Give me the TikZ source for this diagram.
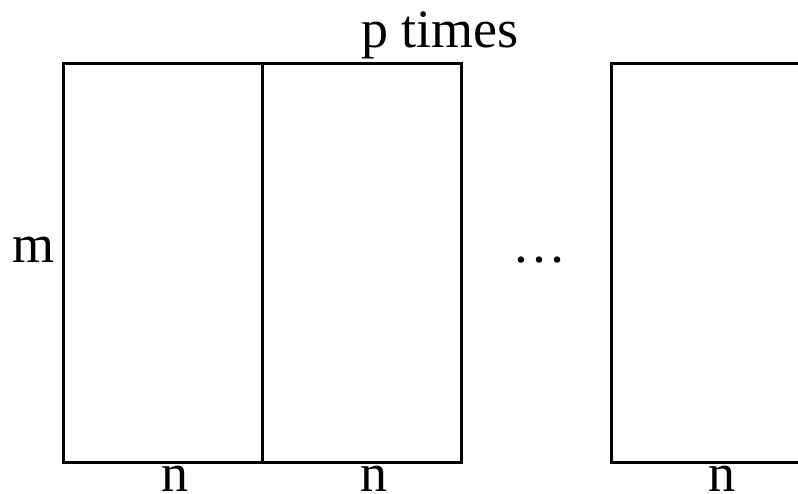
\documentclass[tikz,border=0pt]{standalone}
\usepackage{fontspec}
\setmainfont{Liberation Serif}
\begin{document}
\begin{tikzpicture}[x=1pt,y=-1pt,
  box/.style={draw,line width=3pt,minimum width=199pt,minimum height=399pt,inner sep=0pt,anchor=north west},
  lbl/.style={inner sep=0pt,anchor=base,font=\fontsize{54}{60}\selectfont},
  nlbl/.style={lbl,text depth=0pt,text height=26pt}]
\useasboundingbox (0,0) rectangle (798,493);
\clip (0,0) rectangle (798,493);
\node[box] (b1) at (62,62) {};
\node[box] (b2) at (261,62) {};
\node[box] (b3) at (610,62) {};
\node[lbl] (pt) at (440,47) {p times};
\node[lbl,anchor=base east] (m) at (55,262) {m};
\node[lbl] (dots) at (539,262) {\ldots};
\node[nlbl] (n1) at (175,491) {n};
\node[nlbl] (n2) at (374,491) {n};
\node[nlbl] (n3) at (722,491) {n};
\end{tikzpicture}
\end{document}
